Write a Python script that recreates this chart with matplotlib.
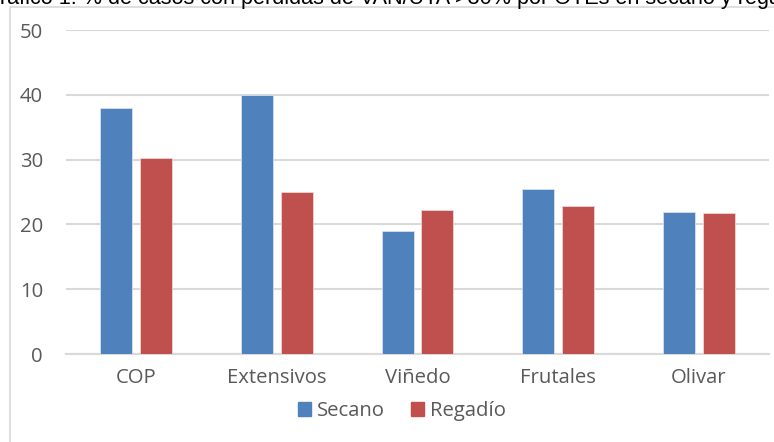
import matplotlib
matplotlib.use("Agg")
import matplotlib.pyplot as plt
import numpy as np
from matplotlib.patches import Rectangle, Patch

categories = ["COP", "Extensivos", "Viñedo", "Frutales", "Olivar"]
secano = [38, 40, 19, 25.5, 21.9]
regadio = [30.2, 25, 22.2, 22.9, 21.8]
series_names = ["Secano", "Regadío"]
y_ticks = [0, 10, 20, 30, 40, 50]
title = "Gráfico 1: % de casos con pérdidas de VAN/UTA >30% por OTEs en secano y regadío"

W, H = 774, 442
fig = plt.figure(figsize=(W / 100, H / 100), dpi=100)

blue = "#4F81BD"
red = "#C0504D"
grid_c = "#D9D9D9"
text_c = "#595959"
font = ["Open Sans", "DejaVu Sans"]
fs = 14.6

# outer chart frame
fig.patches.append(Rectangle((10 / W, -0.1), 1.2, (H - 7) / H + 0.1,
                             transform=fig.transFigure, fill=False,
                             edgecolor=grid_c, lw=1.2))

ax = fig.add_axes([66 / W, (H - 354) / H, (769 - 66) / W, 324 / H])
x = np.arange(len(categories))
bw = 0.228
off = 0.142
ax.bar(x - off, secano, bw, color=blue, edgecolor="#D6E0EE", lw=0.6, zorder=3)
ax.bar(x + off, regadio, bw, color=red, edgecolor="#F0D4D3", lw=0.6, zorder=3)

ax.set_xlim(-0.5, len(categories) - 0.5)
ax.set_ylim(0, 50)
ax.set_yticks(y_ticks)
ax.yaxis.grid(True, color=grid_c, lw=1.5, zorder=0)
ax.set_axisbelow(True)
for s in ["top", "right", "left"]:
    ax.spines[s].set_visible(False)
ax.spines["bottom"].set_color(grid_c)
ax.spines["bottom"].set_linewidth(1.5)
ax.set_xticks(x)
ax.set_xticklabels(categories)
ax.tick_params(axis="both", length=0, colors=text_c, labelsize=fs)
ax.tick_params(axis="y", pad=16.5)
ax.tick_params(axis="x", pad=10)
for lab in ax.get_xticklabels() + ax.get_yticklabels():
    lab.set_family(font)
    lab.set_color(text_c)

handles = [Patch(color=blue), Patch(color=red)]
leg = fig.legend(handles, series_names, loc="center", bbox_to_anchor=(402 / W, (H - 411) / H),
                 ncol=2, frameon=False, handlelength=0.65, handleheight=0.65,
                 handletextpad=0.3, columnspacing=1.3, borderpad=0, borderaxespad=0,
                 prop={"family": font, "size": fs})
for t in leg.get_texts():
    t.set_color(text_c)

# heading sits partly above the figure's top edge
fig.canvas.draw()
r = fig.canvas.get_renderer()
tfs = 15.6
probe = fig.text(0, 0, "G", family="Liberation Sans", fontsize=tfs)
gw = probe.get_window_extent(r).width
probe.remove()
fig.text(-gw / W, 1 - 4 / H, title, family="Liberation Sans", fontsize=tfs,
         color="#000000", va="baseline", ha="left")

fig.savefig("out.png", dpi=100)
